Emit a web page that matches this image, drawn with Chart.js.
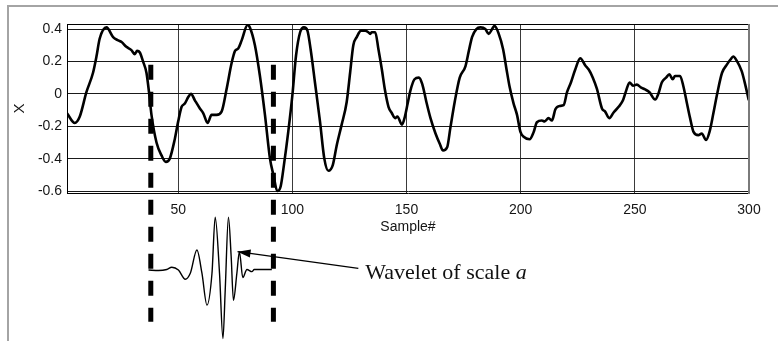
<!DOCTYPE html>
<html>
<head>
<meta charset="utf-8">
<script src="https://cdn.jsdelivr.net/npm/chart.js@4/dist/chart.umd.min.js"></script>
<style>
  html, body { margin: 0; padding: 0; background: #fff; }
  #wrap { position: relative; width: 778px; height: 341px; overflow: hidden; }
  #frame { position: absolute; left: 7px; top: 5px; right: -4px; bottom: -4px;
           border-top: 2px solid #a4a4a4; border-left: 2px solid #a4a4a4; }
  canvas { position: absolute; left: 0; top: 0; }
</style>
</head>
<body>
<div id="wrap">
  <div id="frame"></div>
  <canvas id="c" width="778" height="341"></canvas>
</div>
<script>
// ---------------- data ----------------
const sampleNo = [1.3, 4.7, 6.9, 9.8, 12.7, 14.2, 15.6, 18.6, 21.5, 23.7, 25.2, 27.3, 29.5, 31, 32, 33.2,
  34.6, 36.1, 37.3, 38.3, 40.5, 42.7, 44.6, 46.3, 48.5, 50, 51.5, 52.9, 54.4, 55.6, 57.3, 59.5, 61, 62.9,
  64.6, 66.8, 69, 71.2, 73.4, 74.9, 76.3, 77.8, 80.4, 81.4, 83.6, 85.8, 88, 90.2, 91.7, 93.4, 94.9, 96.3,
  98.2, 100, 101.6, 103.4, 105.1, 106.6, 108, 109.9, 112.1, 114, 115.8, 117.7, 119.4, 121.6, 123.8, 125.3,
  126.7, 128.2, 130.1, 131.9, 133.3, 134.1, 134.8, 136.3, 137.7, 139.2, 140.6, 142.1, 143.6, 145, 146, 148,
  149.3, 150.5, 151.7, 153.5, 155.4, 156.9, 158.7, 160.5, 162.7, 164.6, 166, 167.8, 169.2, 171.1, 173.3,
  175.8, 177.3, 178.7, 180.6, 182.4, 184.5, 186, 187.5, 188.5, 190.4, 192.3, 193.7, 195.2, 196.9, 198.4,
  199.9, 201.3, 203.9, 205.7, 207.1, 209.3, 210.5, 212.2, 213.7, 215.2, 217.1, 218.8, 220.3, 222, 223.9,
  226.1, 228.3, 229.8, 231.6, 233.4, 235.6, 237, 238.8, 240.7, 242.9, 244.8, 246.2, 247.7, 249.2, 250.9,
  252.6, 254.5, 256.4, 258.9, 260.3, 261.8, 263.7, 265.1, 266.6, 267.6, 269.8, 271.2, 272.7, 274.2, 275.7,
  277.8, 279.3, 281.2, 282.7, 284.4, 286.2, 288.2, 290.3, 291.8, 293.1, 294.6, 296.8, 298.3, 299.9];
const xValue = [-0.12, -0.18, -0.14, 0.01, 0.13, 0.23, 0.34, 0.41, 0.35, 0.33, 0.32, 0.29, 0.27, 0.245, 0.265, 0.255,
  0.2, 0.13, 0.0, -0.13, -0.30, -0.38, -0.42, -0.40, -0.28, -0.17, -0.08, -0.06, -0.02, 0.0, -0.04, -0.09, -0.12, -0.18,
  -0.13, -0.13, -0.11, 0.03, 0.19, 0.265, 0.28, 0.33, 0.425, 0.41, 0.30, 0.11, -0.13, -0.40, -0.50, -0.60, -0.57, -0.44,
  -0.235, -0.01, 0.235, 0.38, 0.41, 0.39, 0.275, 0.07, -0.17, -0.40, -0.475, -0.44, -0.32, -0.19, -0.05, 0.13,
  0.30, 0.35, 0.39, 0.39, 0.38, 0.37, 0.38, 0.38, 0.275, 0.15, 0.02, -0.08, -0.12, -0.15, -0.14, -0.19,
  -0.14, -0.06, 0.02, 0.09, 0.10, 0.06, -0.05, -0.15, -0.245, -0.31, -0.35, -0.33, -0.21, -0.05, 0.10,
  0.17, 0.265, 0.35, 0.40, 0.41, 0.40, 0.37, 0.40, 0.42, 0.37, 0.275, 0.16, 0.04, -0.06, -0.13,
  -0.235, -0.265, -0.28, -0.235, -0.175, -0.165, -0.17, -0.15, -0.165, -0.095, -0.075, -0.07, 0.01, 0.07, 0.15,
  0.22, 0.175, 0.15, 0.10, 0.03, -0.09, -0.11, -0.15, -0.115, -0.08, -0.04, 0.02, 0.07, 0.05, 0.057,
  0.04, 0.027, 0.01, -0.035, 0.0, 0.07, 0.10, 0.12, 0.09, 0.11, 0.11, 0.05, -0.05, -0.15, -0.235,
  -0.255, -0.245, -0.285, -0.235, -0.12, 0.01, 0.13, 0.18, 0.21, 0.23, 0.205, 0.14, 0.06, -0.04];

// wavelet sketch drawn under the axis (sample positions, amplitude in wavelet units)
const waveSample = [37.0, 41.4, 45.0, 47.2, 50.1, 53.1, 55.3, 58.2, 60.4, 62.6, 64.8, 66.2, 68.1, 69.6, 70.6,
  72.0, 73.2, 74.2, 75.7, 76.8, 78.3, 80.1, 82.3, 83.3, 91.0];
const waveAmp = [0, -0.01, 0.01, 0.05, 0, -0.17, -0.06, 0.37, -0.06, -0.65, -0.06, 0.98, -0.06, -1.27, -0.37,
  0.98, 0.25, -0.56, -0.06, 0.34, -0.14, 0.01, -0.03, 0.01, 0.01];

// dashed window marks and the arrow
const windowSample = [38.0, 91.7];
const windowAmp = [3.8, -0.96];
const arrowSample = [128.9, 76.0];
const arrowAmp = [0.03, 0.34];
const annotationText = 'Wavelet of scale ';
const annotationItalic = 'a';

const xTicks = [50, 100, 150, 200, 250, 300];
const xTickLabels = ['50', '100', '150', '200', '250', '300'];
const yTicks = [-0.6, -0.4, -0.2, 0, 0.2, 0.4];
const yTickLabels = ['-0.6', '-0.4', '-0.2', '0', '0.2', '0.4'];
const xTitle = 'Sample#';
const yTitle = 'X';

// ---------------- layout constants ----------------
const AREA_TOP = 24, AREA_BOTTOM = 193, AREA_LEFT = 67, AREA_RIGHT = 749;
const CANVAS_W = 778, CANVAS_H = 341;
const WAVE_BASE_PX = 270, WAVE_UNIT_PX = 54;
const y2Max = (WAVE_BASE_PX - AREA_TOP) / WAVE_UNIT_PX;
const y2Min = (WAVE_BASE_PX - AREA_BOTTOM) / WAVE_UNIT_PX;

const tickFont = { family: '"Liberation Sans", Arial, sans-serif', size: 14 };
const textColor = '#151515';

const pts = (xs, ys) => xs.map((x, i) => ({ x: x, y: ys[i] }));

const windowSets = windowSample.map(s => ({
  data: [{ x: s, y: windowAmp[0] }, { x: s, y: windowAmp[1] }],
  yAxisID: 'y2', borderColor: '#000', borderWidth: 5, borderDash: [15, 12],
  borderCapStyle: 'butt', pointRadius: 0, clip: false, tension: 0
}));

const framePlugin = {
  id: 'framePlugin',
  afterDatasetsDraw(chart) {
    const { ctx, chartArea: a } = chart;
    ctx.save();
    ctx.strokeStyle = '#000';
    ctx.lineWidth = 1;
    ctx.beginPath();
    ctx.moveTo(a.left, a.top + 0.5); ctx.lineTo(a.right, a.top + 0.5);
    ctx.stroke();
    ctx.strokeStyle = '#7a7a7a';
    ctx.lineWidth = 2;
    ctx.beginPath();
    ctx.moveTo(a.right, a.top); ctx.lineTo(a.right, a.bottom + 1);
    ctx.stroke();
    ctx.restore();
  },
  afterDraw(chart) {
    const { ctx } = chart;
    const meta = chart.getDatasetMeta(3);
    const p0 = meta.data[0], p1 = meta.data[1];
    // arrow head
    const dx = p1.x - p0.x, dy = p1.y - p0.y;
    const len = Math.hypot(dx, dy);
    const ux = dx / len, uy = dy / len;
    const headL = 13, headW = 4;
    ctx.save();
    ctx.fillStyle = '#000';
    ctx.beginPath();
    ctx.moveTo(p1.x, p1.y);
    ctx.lineTo(p1.x - ux * headL - uy * headW, p1.y - uy * headL + ux * headW);
    ctx.lineTo(p1.x - ux * headL + uy * headW, p1.y - uy * headL - ux * headW);
    ctx.closePath();
    ctx.fill();
    // annotation text
    ctx.fillStyle = '#111';
    ctx.textBaseline = 'alphabetic';
    ctx.font = '22px "Liberation Serif", "Times New Roman", serif';
    const tx = p0.x + 7, ty = p0.y + 11;
    ctx.fillText(annotationText, tx, ty);
    const w = ctx.measureText(annotationText).width;
    ctx.font = 'italic 22px "Liberation Serif", "Times New Roman", serif';
    ctx.fillText(annotationItalic, tx + w, ty);
    ctx.restore();
  }
};

new Chart(document.getElementById('c'), {
  type: 'line',
  data: {
    datasets: [
      windowSets[0],
      windowSets[1],
      {
        data: pts(waveSample, waveAmp), yAxisID: 'y2', borderColor: '#000', borderWidth: 1.4,
        pointRadius: 0, clip: false, cubicInterpolationMode: 'monotone'
      },
      {
        data: pts(arrowSample, arrowAmp), yAxisID: 'y2', borderColor: '#000', borderWidth: 1.4,
        pointRadius: 0, clip: false, tension: 0
      },
      {
        data: pts(sampleNo, xValue), yAxisID: 'y', borderColor: '#000', borderWidth: 2.6,
        pointRadius: 0, cubicInterpolationMode: 'monotone', borderJoinStyle: 'round'
      }
    ]
  },
  options: {
    responsive: false,
    animation: false,
    events: [],
    layout: { padding: { left: 0, top: AREA_TOP, right: CANVAS_W - AREA_RIGHT, bottom: 0 } },
    plugins: { legend: { display: false }, tooltip: { enabled: false } },
    scales: {
      x: {
        type: 'linear', min: 1.3, max: 300,
        afterBuildTicks: s => { s.ticks = xTicks.map(v => ({ value: v })); },
        afterFit: s => { s.height = CANVAS_H - AREA_BOTTOM; },
        grid: { color: '#3a3a3a', lineWidth: 1, drawTicks: false },
        border: { display: true, color: '#000', width: 1 },
        ticks: { padding: 9, font: tickFont, color: textColor, maxRotation: 0,
                 callback: (v, i) => xTickLabels[i] },
        title: { display: true, text: xTitle, font: tickFont, color: textColor,
                 padding: { top: 0, bottom: 105 } }
      },
      y: {
        type: 'linear', min: -0.612, max: 0.431,
        afterBuildTicks: s => { s.ticks = yTicks.map(v => ({ value: v })); },
        afterFit: s => { s.width = AREA_LEFT; },
        grid: { color: '#1a1a1a', lineWidth: 1, drawTicks: false },
        border: { display: true, color: '#000', width: 1 },
        ticks: { padding: 5, font: tickFont, color: textColor,
                 callback: (v, i) => yTickLabels[i] },
        title: { display: true, text: yTitle, font: { family: tickFont.family, size: 15 }, color: textColor,
                 padding: { top: 11, bottom: 0 } }
      },
      y2: { type: 'linear', display: false, min: y2Min, max: y2Max }
    }
  },
  plugins: [framePlugin]
});
</script>
</body>
</html>
